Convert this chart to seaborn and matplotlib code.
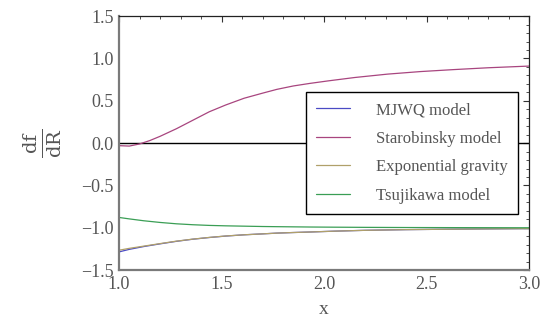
import numpy as np
import pandas as pd
import matplotlib
matplotlib.use("Agg")
import matplotlib.pyplot as plt
import seaborn as sns
from matplotlib.ticker import MultipleLocator

# ---- data ----
x_staro = [1.00, 1.05, 1.10, 1.15, 1.20, 1.28, 1.36, 1.44, 1.52, 1.61, 1.70, 1.77, 1.85,
           1.93, 2.02, 2.15, 2.31, 2.47, 2.63, 2.80, 3.00]
y_staro = [-0.03, -0.035, -0.01, 0.03, 0.08, 0.17, 0.27, 0.37, 0.45, 0.53, 0.59, 0.635, 0.675,
           0.705, 0.735, 0.775, 0.815, 0.845, 0.868, 0.89, 0.91]

x_common = [1.00, 1.05, 1.12, 1.20, 1.28, 1.36, 1.44, 1.52, 1.61, 1.70, 1.77, 1.85, 1.93,
            2.05, 2.20, 2.40, 2.60, 2.80, 3.00]
y_mjwq = [-1.285, -1.255, -1.222, -1.19, -1.16, -1.135, -1.115, -1.098, -1.083, -1.072,
          -1.063, -1.056, -1.05, -1.04, -1.03, -1.022, -1.017, -1.013, -1.01]
y_expo = [-1.265, -1.243, -1.217, -1.187, -1.158, -1.134, -1.114, -1.097, -1.083, -1.072,
          -1.063, -1.056, -1.05, -1.04, -1.03, -1.022, -1.017, -1.013, -1.01]
y_tsuji = [-0.878, -0.895, -0.917, -0.937, -0.953, -0.964, -0.972, -0.977, -0.981, -0.985,
           -0.987, -0.989, -0.991, -0.993, -0.995, -0.997, -0.998, -0.999, -1.0]

labels = ["MJWQ model", "Starobinsky model", "Exponential gravity", "Tsujikawa model"]
colors = ["#4a4ac4", "#a8457f", "#b0a06a", "#3a9e55"]

df = pd.concat([
    pd.DataFrame({"x": x_common, "y": y_mjwq, "model": labels[0]}),
    pd.DataFrame({"x": x_staro, "y": y_staro, "model": labels[1]}),
    pd.DataFrame({"x": x_common, "y": y_expo, "model": labels[2]}),
    pd.DataFrame({"x": x_common, "y": y_tsuji, "model": labels[3]}),
], ignore_index=True)

sns.set_style("white")
plt.rcParams["font.family"] = ["Liberation Serif", "DejaVu Serif"]
plt.rcParams["mathtext.fontset"] = "dejavuserif"

fig = plt.figure(figsize=(5.42, 3.29), dpi=100)
ax = fig.add_axes([0.2196, 0.179, 0.7565, 0.772])

ax.axhline(0, color="black", lw=1.0, zorder=1)
sns.lineplot(data=df, x="x", y="y", hue="model", hue_order=labels, palette=colors,
             lw=0.9, ax=ax, sort=False, estimator=None, zorder=2)

ax.set_xlim(1.0, 3.0)
ax.set_ylim(-1.5, 1.5)
ax.xaxis.set_major_locator(MultipleLocator(0.5))
ax.xaxis.set_minor_locator(MultipleLocator(0.1))
ax.yaxis.set_major_locator(MultipleLocator(0.5))
ax.yaxis.set_minor_locator(MultipleLocator(0.1))
ax.tick_params(which="both", direction="in", top=True, right=True, color="#333333")
ax.tick_params(which="major", length=4, width=0.8, labelsize=13, labelcolor="#555555", pad=4)
ax.tick_params(which="minor", length=2, width=0.6)
ax.set_xticks([1.0, 1.5, 2.0, 2.5, 3.0])
ax.set_xticklabels(["1.0", "1.5", "2.0", "2.5", "3.0"])
ax.set_yticks([-1.5, -1.0, -0.5, 0.0, 0.5, 1.0, 1.5])
ax.set_yticklabels(["\u22121.5", "\u22121.0", "\u22120.5", "0.0", "0.5", "1.0", "1.5"])

for s in ["left", "bottom"]:
    ax.spines[s].set_color("#7a7a7a")
    ax.spines[s].set_linewidth(1.6)
for s in ["top", "right"]:
    ax.spines[s].set_color("#222222")
    ax.spines[s].set_linewidth(0.9)

ax.set_xlabel("x", fontsize=14, color="#555555", labelpad=6)
ax.set_ylabel(r"$\frac{\mathrm{df}}{\mathrm{dR}}$", fontsize=20, color="#555555", labelpad=12)

leg = ax.legend(loc="upper right", bbox_to_anchor=(0.973, 0.70), frameon=True, fancybox=False,
                fontsize=12, handlelength=2.0, handletextpad=1.6, labelspacing=0.75,
                borderpad=0.6, borderaxespad=0)
leg.get_frame().set_edgecolor("black")
leg.get_frame().set_linewidth(1.0)
leg.get_frame().set_alpha(1)
for t in leg.get_texts():
    t.set_color("#555555")
for h in leg.get_lines():
    h.set_linewidth(0.9)

fig.savefig("out.png", dpi=100)
